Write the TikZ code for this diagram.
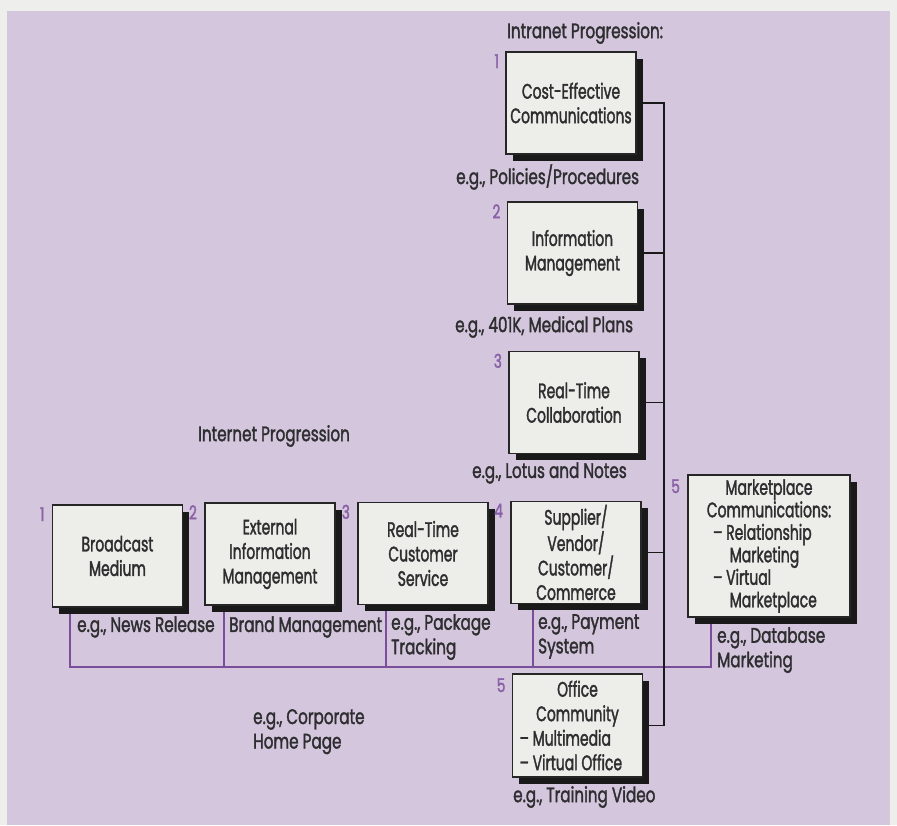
\documentclass[tikz,border=0pt]{standalone}
\usepackage{fontspec}
\setmainfont{Poppins}[FakeStretch=0.725,FakeBold=1.6]
\newfontfamily\stagefont{Poppins}[FakeStretch=0.665,FakeBold=1.6]
\usetikzlibrary{shadows,calc,backgrounds}
\definecolor{paper}{HTML}{EEEEEC}
\definecolor{lav}{HTML}{D4C6DC}
\definecolor{boxfill}{HTML}{EDEDEA}
\definecolor{ink}{HTML}{2E2E30}
\definecolor{numc}{HTML}{8A60A8}
\definecolor{wire}{HTML}{7A4E9A}

\begin{document}
\begin{tikzpicture}[x=1pt,y=-1pt,
  stagebox/.style={draw=black!85, line width=1.8pt, fill=boxfill, text=ink, align=center,
    minimum width=130pt, minimum height=102pt, inner sep=1pt,
    font=\stagefont\fontsize{21}{24.5}\selectfont,
    drop shadow={shadow xshift=6.5pt, shadow yshift=-6.5pt, fill=black!90, opacity=1}},
  num/.style={text=numc, font=\fontsize{19}{19}\selectfont, inner sep=0pt, anchor=north east},
  lbl/.style={text=ink, font=\fontsize{21}{24.5}\selectfont, inner sep=0pt, align=left},
  trunk/.style={draw=black!90, line width=1.8pt},
  buswire/.style={draw=wire, line width=1.8pt}]

\useasboundingbox (0,0) rectangle (897,825);

% titles
\node[lbl, anchor=west] (tIntra) at (507,33) {Intranet Progression:};
\node[lbl, anchor=west] (tInter) at (198,436) {Internet Progression};

% junction references
\coordinate (spine) at (664,0);
\coordinate (bus) at (0,667);

% intranet stages
\node[stagebox] (i1) at (571,103) {Cost-Effective\\Communications};
\node[stagebox] (i2) at (572.5,253) {Information\\Management};
\node[stagebox] (i3) at (574,402.5) {Real-Time\\Collaboration};
\node[stagebox, minimum height=103pt] (ofc) at (577.5,725.5)
  {Office\\Community\\\makebox[116pt][l]{– Multimedia}\\\makebox[116pt][l]{– Virtual Office}};

% internet stages
\node[stagebox] (b1) at (117.5,556) {Broadcast\\Medium};
\node[stagebox] (b2) at (270,554) {External\\Information\\Management};
\node[stagebox] (b3) at (423,553.5) {Real-Time\\Customer\\Service};
\node[stagebox] (b4) at (576,552.5) {Supplier/\\Vendor/\\Customer/\\Commerce};
\node[stagebox, minimum width=162pt, minimum height=142pt,
      font=\stagefont\fontsize{21}{22.5}\selectfont] (b5) at (769,546)
  {Marketplace\\Communications:\\
   \makebox[112pt][l]{– Relationship}\\\makebox[112pt][l]{\hspace{0.8em}Marketing}\\
   \makebox[112pt][l]{– Virtual}\\\makebox[112pt][l]{\hspace{0.8em}Marketplace}};

% drop points on the internet bus
\coordinate (d1) at ($(b1.south west)+(18,0)$);
\coordinate (d2) at ($(b2.south west)+(20,0)$);
\coordinate (d3) at ($(b3.south west)+(29,0)$);
\coordinate (d4) at ($(b4.south west)+(23,0)$);
\coordinate (d5) at ($(b5.south west)+(24,0)$);

\begin{scope}[on background layer]
  % sheet and tinted panel
  \fill[paper] (0,0) rectangle (897,825);
  \fill[lav] (7,11) rectangle (890,825);
  % internet bus
  \draw[buswire] (d1) |- (d5 |- bus) -- (d5);
  \foreach \d in {d2,d3,d4} \draw[buswire] (\d) -- (\d |- bus);
  % intranet trunk
  \draw[trunk] (i1.east) -| (spine |- ofc.east) -- (ofc.east);
  \foreach \b in {i2,i3,b4} \draw[trunk] (\b.east) -- (\b.east -| spine);
\end{scope}

% step numbers
\node[num] (n1) at ([xshift=-6pt,yshift=-3pt]i1.north west) {1};
\node[num] (n2) at ([xshift=-6pt,yshift=-3pt]i2.north west) {2};
\node[num] (n3) at ([xshift=-6pt,yshift=-3pt]i3.north west) {3};
\node[num] (n5o) at ([xshift=-6pt,yshift=-5pt]ofc.north west) {5};
\node[num] (m1) at ([xshift=-7pt,yshift=-3pt]b1.north west) {1};
\node[num] (m2) at ([xshift=-7pt,yshift=-3pt]b2.north west) {2};
\node[num] (m3) at ([xshift=-7pt,yshift=-3pt]b3.north west) {3};
\node[num] (m4) at ([xshift=-7pt,yshift=-3pt]b4.north west) {4};
\node[num] (m5) at ([xshift=-7pt,yshift=-5pt]b5.north west) {5};

% examples
\node[lbl, anchor=west] (e1) at (456,177) {e.g., Policies/Procedures};
\node[lbl, anchor=west] (e2) at (455,327) {e.g., 401K, Medical Plans};
\node[lbl, anchor=west] (e3) at (472,473) {e.g., Lotus and Notes};
\node[lbl, anchor=west] (e4) at (77,627) {e.g., News Release};
\node[lbl, anchor=west] (e5) at (229,627) {Brand Management};
\node[lbl, anchor=north west] (e6) at (391,614) {e.g., Package\\Tracking};
\node[lbl, anchor=north west] (e7) at (538,614) {e.g., Payment\\System};
\node[lbl, anchor=north west] (e8) at (717,627) {e.g., Database\\Marketing};
\node[lbl, anchor=north west] (e9) at (253,709) {e.g., Corporate\\Home Page};
\node[lbl, anchor=west] (e10) at (513,797) {e.g., Training Video};
\end{tikzpicture}
\end{document}
